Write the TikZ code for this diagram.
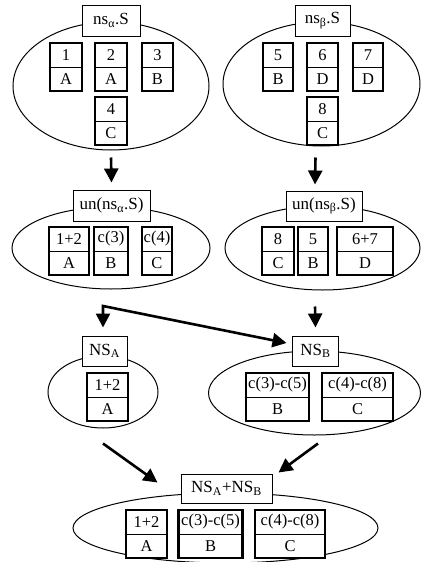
\documentclass[tikz,border=0pt]{standalone}
\usepackage{fontspec}
\setmainfont{Liberation Serif}
\usetikzlibrary{shapes.geometric,arrows.meta}

% one record: name, x, top y, width, upper text, lower text
\newcommand{\cellbox}[6]{%
    \node[cell, minimum width=#4pt] (#1) at (#2,#3+24) {};
    \draw[divider] (#1.west) -- (#1.east);
    \node[celltext] (#1u) at ([yshift=12pt]#1.center) {#5};
    \node[celltext] (#1l) at ([yshift=-12pt]#1.center) {#6};
}

\begin{document}
\begin{tikzpicture}[
        x=1pt, y=-1pt,
        set/.style={draw, ellipse, line width=1pt, inner sep=0pt},
        title/.style={draw, fill=white, line width=1pt, inner sep=0pt,
            minimum height=30pt, font=\fontsize{17}{20}\selectfont},
        cell/.style={draw, fill=white, line width=2.6pt, minimum height=48pt, inner sep=0pt},
        divider/.style={line width=0.9pt},
        celltext/.style={inner sep=0pt, font=\fontsize{16.5}{19}\selectfont},
        flow/.style={line width=2.6pt, -{Triangle[length=14pt,width=14pt]}},
        split/.style={line width=2.6pt, {Triangle[length=14pt,width=14pt]}-{Triangle[length=14pt,width=14pt]}},
    ]
    \useasboundingbox (0,0) rectangle (421,562);

    % the seven sets
    \node[set, minimum width=196pt, minimum height=128pt] (e1) at (111,86) {};
    \node[set, minimum width=197pt, minimum height=124pt] (e2) at (321.5,84) {};
    \node[set, minimum width=198pt, minimum height=82pt] (e3) at (111,248) {};
    \node[set, minimum width=195pt, minimum height=84pt] (e4) at (322.5,248) {};
    \node[set, minimum width=110pt, minimum height=72pt] (e5) at (103,392) {};
    \node[set, minimum width=212pt, minimum height=84pt] (e6) at (314.5,393) {};
    \node[set, minimum width=305pt, minimum height=70pt] (e7) at (225.5,528) {};

    % titles
    \node[title, minimum width=58pt, minimum height=31pt] (t1) at (111,20.5) {ns\textsubscript{α}.S};
    \node[title, minimum width=55pt, minimum height=31pt] (t2) at (322.5,20.5) {ns\textsubscript{β}.S};
    \node[title, minimum width=77pt, minimum height=31pt] (t3) at (111.5,205.5) {un(ns\textsubscript{α}.S)};
    \node[title, minimum width=76pt] (t4) at (324,206) {un(ns\textsubscript{β}.S)};
    \node[title, minimum width=45pt] (t5) at (104.5,351) {NS\textsubscript{A}};
    \node[title, minimum width=46pt] (t6) at (315.5,351) {NS\textsubscript{B}};
    \node[title, minimum width=91pt, minimum height=29pt] (t7) at (226.5,488.5) {NS\textsubscript{A}+NS\textsubscript{B}};

    % records
    \cellbox{c1}{66}{43}{32}{1}{A}
    \cellbox{c2}{111}{43}{32}{2}{A}
    \cellbox{c3}{157.5}{43}{31}{3}{B}
    \cellbox{c4}{111}{97}{32}{4}{C}

    \cellbox{c5}{278}{43}{30}{5}{B}
    \cellbox{c6}{322.5}{43}{31}{6}{D}
    \cellbox{c7}{368}{43}{30}{7}{D}
    \cellbox{c8}{322.5}{97}{31}{8}{C}

    \cellbox{u1}{69}{227}{40}{1+2}{A}
    \cellbox{u2}{111}{227}{34}{c(3)}{B}
    \cellbox{u3}{157}{227}{30}{c(4)}{C}

    \cellbox{v1}{278}{227}{32}{8}{C}
    \cellbox{v2}{313}{227}{30}{5}{B}
    \cellbox{v3}{365}{227}{56}{6+7}{D}

    \cellbox{p1}{107.5}{373}{41}{1+2}{A}

    \cellbox{q1}{277.5}{373}{63}{c(3)-c(5)}{B}
    \cellbox{q2}{357.5}{373}{71}{c(4)-c(8)}{C}

    \cellbox{m1}{146.5}{510}{41}{1+2}{A}
    \cellbox{m2}{210.5}{510}{64}{c(3)-c(5)}{B}
    \cellbox{m3}{290}{510}{70}{c(4)-c(8)}{C}

    % arrows
    \coordinate (fork) at (103,306);
    \draw[flow] ([yshift=-7pt]e1.south) -- ([yshift=7pt]t3.north);
    \draw[flow] ([xshift=-6pt,yshift=-11pt]e2.south) -- ([xshift=-9pt,yshift=6pt]t4.north);
    \draw[flow] ([xshift=-7.5pt,yshift=-16pt]e4.south) -- ([yshift=8pt]t6.north);
    \draw[split] ([xshift=-1.5pt,yshift=8pt]t5.north) -- (fork) -- ([xshift=-5.5pt,yshift=8pt]t6.west);
    \draw[flow] ([yshift=-15pt]e5.south) -- ([xshift=-23pt,yshift=-9pt]t7.north west);
    \draw[flow] ([xshift=3.5pt,yshift=-8pt]e6.south) -- ([xshift=6pt,yshift=1pt]t7.north east);
\end{tikzpicture}
\end{document}
